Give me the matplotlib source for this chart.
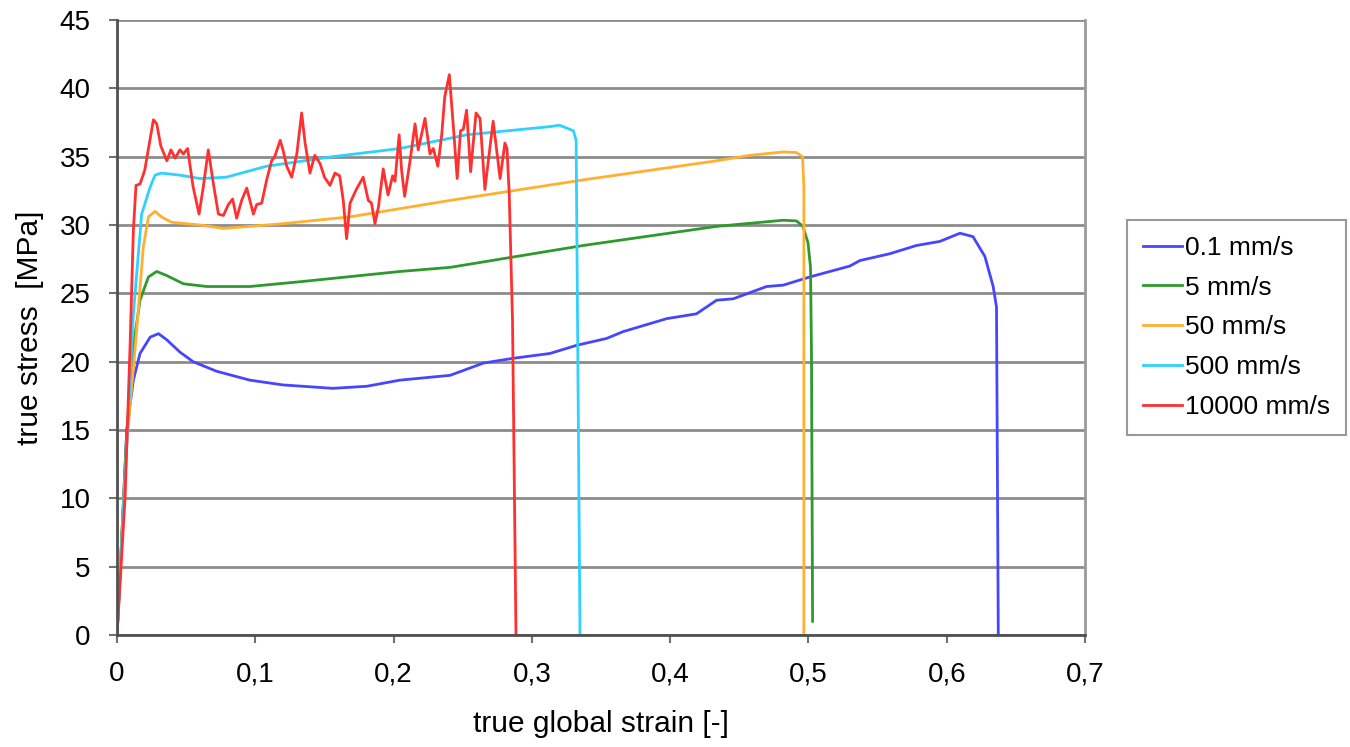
import matplotlib
matplotlib.use("Agg")
from matplotlib import pyplot as plt
from matplotlib.ticker import FuncFormatter

plt.rcParams['font.family'] = ['Liberation Sans', 'DejaVu Sans']

# 0.1 mm/s
strain_01 = [0, 0.002, 0.007, 0.0118, 0.0166, 0.024, 0.030, 0.036, 0.0455, 0.055, 0.072, 0.096,
             0.120, 0.156, 0.1805, 0.2046, 0.2408, 0.265, 0.2866, 0.313, 0.3324, 0.354, 0.366,
             0.3975, 0.419, 0.4336, 0.4456, 0.4697, 0.4818, 0.501, 0.530, 0.5372, 0.5589, 0.578,
             0.595, 0.6096, 0.619, 0.6276, 0.6336, 0.636, 0.6373]
stress_01 = [0, 4.0, 15.0, 18.65, 20.6, 21.8, 22.05, 21.6, 20.7, 20.0, 19.3, 18.65,
             18.3, 18.05, 18.2, 18.65, 19.0, 19.9, 20.25, 20.6, 21.2, 21.7, 22.2,
             23.15, 23.5, 24.5, 24.6, 25.5, 25.6, 26.2, 27.0, 27.4, 27.9, 28.5,
             28.8, 29.4, 29.15, 27.7, 25.5, 24.0, 0]

# 5 mm/s
strain_5 = [0, 0.007, 0.0118, 0.0166, 0.0227, 0.0287, 0.036, 0.048, 0.0649, 0.096, 0.1323,
            0.2046, 0.2408, 0.337, 0.4336, 0.4818, 0.4914, 0.496, 0.4997, 0.5015, 0.5022, 0.503]
stress_5 = [0, 14.75, 21.1, 24.5, 26.2, 26.6, 26.3, 25.7, 25.5, 25.5, 25.85,
            26.6, 26.9, 28.5, 29.9, 30.35, 30.3, 29.9, 28.7, 26.9, 20.6, 1.0]

# 50 mm/s
strain_50 = [0, 0.007, 0.0142, 0.019, 0.0227, 0.0275, 0.032, 0.0395, 0.060, 0.0769, 0.096, 0.120,
             0.1685, 0.2046, 0.2408, 0.337, 0.4336, 0.4577, 0.4818, 0.4914, 0.4957, 0.4967, 0.4967]
stress_50 = [0, 14.0, 22.3, 28.4, 30.6, 31.0, 30.6, 30.2, 30.0, 29.75, 29.9, 30.1,
             30.6, 31.2, 31.8, 33.3, 34.7, 35.1, 35.35, 35.3, 35.0, 32.8, 0]

# 500 mm/s
strain_500 = [0, 0.001, 0.007, 0.0118, 0.0178, 0.024, 0.0275, 0.032, 0.0455, 0.060, 0.079, 0.108,
              0.156, 0.2046, 0.2528, 0.313, 0.320, 0.330, 0.332, 0.3348]
stress_500 = [0, 2.1, 13.8, 23.5, 30.8, 32.8, 33.65, 33.8, 33.65, 33.4, 33.5, 34.3,
              35.0, 35.6, 36.6, 37.2, 37.3, 36.9, 36.2, 0]

# 10000 mm/s
strain_10000 = [0, 0.0058, 0.0094, 0.0118, 0.0137, 0.0166, 0.020, 0.0263, 0.0287, 0.0316, 0.036,
                0.039, 0.042, 0.0455, 0.048, 0.051, 0.055, 0.0593, 0.0624, 0.066, 0.0697, 0.0733,
                0.0769, 0.0805, 0.0836, 0.0865, 0.0901, 0.0938, 0.0986, 0.101, 0.1046, 0.1082,
                0.1118, 0.114, 0.118, 0.120, 0.1227, 0.1263, 0.130, 0.1335, 0.136, 0.1395, 0.143,
                0.1468, 0.150, 0.154, 0.1576, 0.161, 0.1636, 0.166, 0.1685, 0.173, 0.178, 0.1817,
                0.184, 0.1865, 0.189, 0.1925, 0.196, 0.1993, 0.201, 0.204, 0.2058, 0.208, 0.2119,
                0.2155, 0.2178, 0.2227, 0.2263, 0.2287, 0.232, 0.2348, 0.237, 0.2403, 0.2432,
                0.246, 0.2484, 0.2504, 0.2528, 0.2557, 0.2596, 0.2625, 0.266, 0.2697, 0.272,
                0.277, 0.2805, 0.282, 0.2836, 0.286, 0.2885]
stress_10000 = [0, 10.1, 21.1, 29.6, 32.9, 33.0, 34.0, 37.7, 37.4, 35.8, 34.7,
                35.5, 34.9, 35.5, 35.2, 35.6, 32.8, 30.8, 32.8, 35.5, 33.0, 30.8,
                30.7, 31.5, 31.9, 30.5, 31.8, 32.7, 30.8, 31.5, 31.6, 33.3,
                34.7, 35.0, 36.2, 35.5, 34.3, 33.5, 35.2, 38.2, 36.0, 33.8, 35.1,
                34.5, 33.5, 32.9, 33.8, 33.6, 31.8, 29.0, 31.6, 32.6, 33.5, 31.8,
                31.6, 30.1, 31.3, 34.1, 32.2, 33.6, 33.2, 36.6, 34.0, 32.1, 34.7,
                37.4, 35.5, 37.8, 35.2, 35.6, 34.3, 36.6, 39.4, 41.0, 37.2,
                33.4, 36.9, 37.0, 38.4, 33.9, 38.2, 37.8, 32.6, 35.7, 37.6,
                33.4, 36.0, 35.6, 32.3, 23.0, 0]

labels = ['0.1 mm/s', '5 mm/s', '50 mm/s', '500 mm/s', '10000 mm/s']
colors = ['#4646ff', '#2e9a2e', '#ffb030', '#30d0ff', '#ff3030']

fig = plt.figure(figsize=(13.5, 7.47), dpi=100)
ax = fig.add_axes([0.0867, 0.1499, 0.7170, 0.8233])

series = [(strain_01, stress_01), (strain_5, stress_5), (strain_50, stress_50),
          (strain_500, stress_500), (strain_10000, stress_10000)]
for (x, y), lab, c in zip(series, labels, colors):
    ax.plot(x, y, color=c, lw=2, label=lab)

ax.set_xlim(0, 0.7)
ax.set_ylim(0, 45)
ax.set_xticks([0, 0.1, 0.2, 0.3, 0.4, 0.5, 0.6, 0.7])
ax.set_yticks(range(0, 46, 5))
ax.xaxis.set_major_formatter(FuncFormatter(lambda v, p: '0' if v == 0 else ('%.1f' % v).replace('.', ',')))
ax.yaxis.grid(True, color='#8c8c8c', lw=2)
ax.set_axisbelow(True)
ax.tick_params(labelsize=20, length=6, width=1.5, color='#707070', direction='out')
ax.tick_params(axis='y', pad=13)
ax.tick_params(axis='x', pad=13)

for s in ['left', 'bottom']:
    ax.spines[s].set_color('#505050')
    ax.spines[s].set_linewidth(2)
ax.spines['right'].set_color('#9a9a9a')
ax.spines['right'].set_linewidth(2)
ax.spines['top'].set_visible(False)

ax.set_xlabel('true global strain [-]', fontsize=21.5, labelpad=16)
ax.set_ylabel('true stress  [MPa]', fontsize=21.5, labelpad=11)

leg = ax.legend(loc='center left', bbox_to_anchor=(0.8348, 0.5616), bbox_transform=fig.transFigure,
                fontsize=19, frameon=True, fancybox=False, handlelength=1.5, handletextpad=0.1,
                labelspacing=0.6, borderpad=0.6, borderaxespad=0)
leg.get_frame().set_edgecolor('#808080')
leg.get_frame().set_linewidth(1.5)

plt.savefig('out.png', dpi=100)
